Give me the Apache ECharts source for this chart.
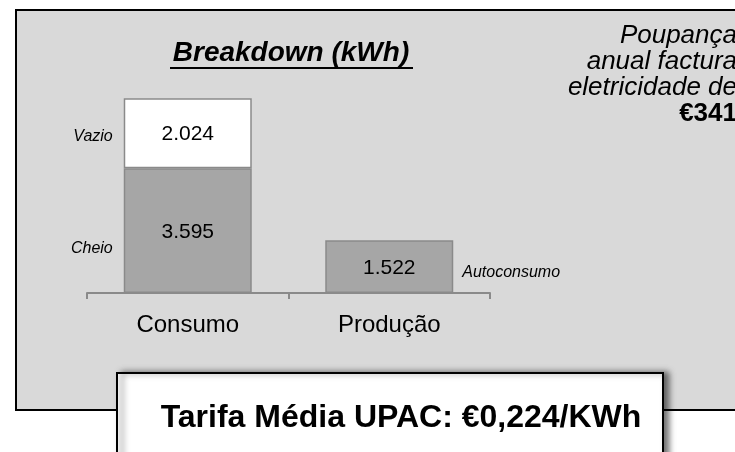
<!DOCTYPE html>
<html>
<head>
<meta charset="utf-8">
<script src="https://cdn.jsdelivr.net/npm/echarts@6/dist/echarts.min.js"></script>
<style>
html,body{margin:0;padding:0;background:#fff;}
#c{width:735px;height:452px;}
</style>
</head>
<body>
<div id="c"></div>
<script>
var categories = ['Consumo', 'Produção'];
var cheio = [3595, '-'];
var vazio = [2024, '-'];
var autoconsumo = ['-', 1522];
var seriesNames = ['Cheio', 'Vazio', 'Autoconsumo'];
var titleText = 'Breakdown (kWh)';
var sideText = ['Poupança', 'anual factura', 'eletricidade de'];
var sideValue = '€341';
var tarifaText = 'Tarifa Média UPAC: €0,224/KWh';

var FONT = '"Liberation Sans", Arial, sans-serif';
function fmt(p) {
  return String(p.value.toFixed ? (p.value / 1000).toFixed(3) : p.value);
}
var barBorder = { borderColor: '#8a8a8a', borderWidth: 1.5 };
var inLabel = { show: true, position: 'inside', color: '#000', fontSize: 21, fontFamily: FONT, formatter: fmt };
var ghostStyle = { color: 'rgba(0,0,0,0)', borderWidth: 0 };
var sideLabel = { show: true, color: '#000', fontSize: 16, fontStyle: 'italic', fontFamily: FONT, formatter: '{a}' };

var chart = echarts.init(document.getElementById('c'), null, { renderer: 'canvas' });
var option = {
  backgroundColor: '#ffffff',
  animation: false,
  graphic: [
    { type: 'rect', z: -10, shape: { x: 16, y: 10, width: 740, height: 400 },
      style: { fill: '#d9d9d9', stroke: '#000', lineWidth: 2 } },
    { type: 'text', z: 10, x: 291, y: 53,
      style: { text: titleText, textAlign: 'center', textVerticalAlign: 'middle',
               font: 'italic bold 28px ' + FONT, fill: '#000' } },
    { type: 'line', z: 10, shape: { x1: 170, y1: 68, x2: 413, y2: 68 },
      style: { stroke: '#000', lineWidth: 2 } },
    { type: 'text', z: 10, x: 737, y: 36,
      style: { text: sideText[0], textAlign: 'right', textVerticalAlign: 'middle', font: 'italic 26px ' + FONT, fill: '#000' } },
    { type: 'text', z: 10, x: 737, y: 62,
      style: { text: sideText[1], textAlign: 'right', textVerticalAlign: 'middle', font: 'italic 26px ' + FONT, fill: '#000' } },
    { type: 'text', z: 10, x: 737, y: 88,
      style: { text: sideText[2], textAlign: 'right', textVerticalAlign: 'middle', font: 'italic 26px ' + FONT, fill: '#000' } },
    { type: 'text', z: 10, x: 737, y: 114,
      style: { text: sideValue, textAlign: 'right', textVerticalAlign: 'middle', font: 'bold 26px ' + FONT, fill: '#000' } },
    { type: 'rect', z: 20, shape: { x: 117, y: 373, width: 546, height: 100 },
      style: { fill: '#fff', stroke: '#000', lineWidth: 2, shadowBlur: 6, shadowOffsetX: 5, shadowOffsetY: 0, shadowColor: 'rgba(0,0,0,0.55)' } },
    { type: 'text', z: 21, x: 401, y: 418,
      style: { text: tarifaText, textAlign: 'center', textVerticalAlign: 'middle', font: 'bold 32px ' + FONT, fill: '#000' } }
  ],
  grid: { left: 87, right: 245, top: 85, bottom: 159, containLabel: false },
  xAxis: [
    { type: 'category', data: categories, boundaryGap: true,
      axisLine: { lineStyle: { color: '#8a8a8a', width: 2 } },
      axisTick: { show: true, length: 6, lineStyle: { color: '#8a8a8a', width: 2 } },
      axisLabel: { color: '#000', fontSize: 24, fontFamily: FONT, margin: 20 } },
    { type: 'category', data: categories, show: false }
  ],
  yAxis: { type: 'value', min: 0, max: 6000, show: false, splitLine: { show: false } },
  series: [
    { name: seriesNames[0], type: 'bar', stack: 'a', barWidth: 128, data: cheio,
      itemStyle: Object.assign({ color: '#a6a6a6' }, barBorder),
      label: Object.assign({}, inLabel, { offset: [0, 2] }) },
    { name: seriesNames[1], type: 'bar', stack: 'a', barWidth: 128, data: vazio,
      itemStyle: Object.assign({ color: '#ffffff' }, barBorder),
      label: Object.assign({}, inLabel, { offset: [0, 1] }) },
    { name: seriesNames[2], type: 'bar', stack: 'a', barWidth: 128, data: autoconsumo,
      itemStyle: Object.assign({ color: '#a6a6a6' }, barBorder),
      label: Object.assign({}, inLabel, { offset: [0, 2] }) },
    { name: seriesNames[0], type: 'bar', xAxisIndex: 1, stack: 'g', barWidth: 128, data: cheio, silent: true,
      itemStyle: ghostStyle, label: Object.assign({}, sideLabel, { position: 'left', distance: 11, offset: [0, 18] }) },
    { name: seriesNames[1], type: 'bar', xAxisIndex: 1, stack: 'g', barWidth: 128, data: vazio, silent: true,
      itemStyle: ghostStyle, label: Object.assign({}, sideLabel, { position: 'left', distance: 11, offset: [0, 3] }) },
    { name: seriesNames[2], type: 'bar', xAxisIndex: 1, stack: 'g', barWidth: 128, data: autoconsumo, silent: true,
      itemStyle: ghostStyle, label: Object.assign({}, sideLabel, { position: 'right', distance: 9, offset: [0, 6] }) }
  ]
};
chart.setOption(option);
</script>
</body>
</html>
